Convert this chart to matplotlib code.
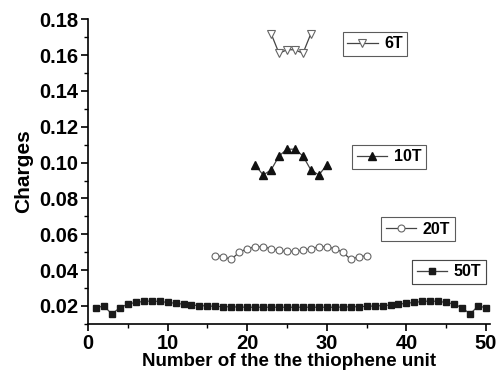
import matplotlib
matplotlib.use("Agg")
import matplotlib.pyplot as plt
from matplotlib.ticker import MultipleLocator

plt.rcParams['font.family'] = ['Liberation Sans', 'DejaVu Sans']
plt.rcParams['font.weight'] = 'bold'

x6 = [23, 24, 25, 26, 27, 28]
y6 = [0.172, 0.161, 0.163, 0.163, 0.161, 0.172]

x10 = [21, 22, 23, 24, 25, 26, 27, 28, 29, 30]
y10 = [0.0987, 0.0931, 0.0959, 0.1037, 0.1075, 0.1075, 0.1037, 0.0959, 0.0931, 0.0987]

x20 = list(range(16, 36))
y20 = [0.048, 0.0475, 0.046, 0.050, 0.052, 0.053, 0.053, 0.052, 0.051, 0.0505,
       0.0505, 0.051, 0.052, 0.053, 0.053, 0.052, 0.050, 0.046, 0.0475, 0.048]

x50 = list(range(1, 51))
y50 = [0.019, 0.020, 0.0155, 0.019, 0.021, 0.022, 0.0225, 0.0228, 0.0225, 0.022,
       0.0215, 0.021, 0.0205, 0.0202, 0.0200, 0.0198, 0.0196, 0.0195, 0.0194, 0.0193,
       0.0193, 0.0193, 0.0193, 0.0193, 0.0193, 0.0193, 0.0193, 0.0193, 0.0193, 0.0193,
       0.0193, 0.0194, 0.0195, 0.0196, 0.0198, 0.0200, 0.0202, 0.0205, 0.021, 0.0215,
       0.022, 0.0225, 0.0228, 0.0225, 0.022, 0.021, 0.019, 0.0155, 0.020, 0.019]

labels = ['6T', '10T', '20T', '50T']

fig = plt.figure(figsize=(4.97, 3.71), dpi=100)
ax = fig.add_axes([0.177, 0.127, 0.809, 0.821])

lc = '#444444'
l6, = ax.plot(x6, y6, '-', color=lc, lw=0.9, marker='v', ms=5.5, mfc='white', mec='#666666', mew=0.8)
l10, = ax.plot(x10, y10, '-', color=lc, lw=0.9, marker='^', ms=5.5, mfc='#111111', mec='#111111')
l20, = ax.plot(x20, y20, '-', color=lc, lw=0.9, marker='o', ms=5, mfc='white', mec='#666666', mew=0.8)
l50, = ax.plot(x50, y50, '-', color=lc, lw=0.9, marker='s', ms=4.6, mfc='#1a1a1a', mec='#1a1a1a')

ax.set_xlim(0, 50.5)
ax.set_ylim(0.01, 0.18)
ax.xaxis.set_major_locator(MultipleLocator(10))
ax.xaxis.set_minor_locator(MultipleLocator(5))
ax.yaxis.set_major_locator(MultipleLocator(0.02))
ax.yaxis.set_minor_locator(MultipleLocator(0.01))
ax.yaxis.set_major_formatter(matplotlib.ticker.FormatStrFormatter('%.2f'))
for s in ['top', 'right']:
    ax.spines[s].set_visible(False)
for s in ['left', 'bottom']:
    ax.spines[s].set_linewidth(1.2)
ax.tick_params(which='major', direction='out', length=5, width=1.2, labelsize=14.5, pad=2)
ax.tick_params(which='minor', direction='out', length=3, width=1.0)
for t in ax.get_xticklabels() + ax.get_yticklabels():
    t.set_fontweight('bold')

ax.set_xlabel('Number of the the thiophene unit', fontsize=13.5, fontweight='bold', labelpad=0)
ax.set_ylabel('Charges', fontsize=15, fontweight='bold', labelpad=4)

def add_leg(handle, label, loc_xy):
    leg = ax.legend([handle], [label], loc='center', bbox_to_anchor=loc_xy,
                    bbox_transform=fig.transFigure, frameon=True, fancybox=False,
                    handlelength=1.9, handletextpad=0.4, borderpad=0.3,
                    prop={'weight': 'bold', 'size': 11.5})
    leg.get_frame().set_edgecolor('#333333')
    leg.get_frame().set_linewidth(0.8)
    ax.add_artist(leg)
    return leg

add_leg(l6, '6T', (375 / 497, 1 - 44 / 371))
add_leg(l10, '10T', (389 / 497, 1 - 157 / 371))
add_leg(l20, '20T', (418 / 497, 1 - 229 / 371))
add_leg(l50, '50T', (449 / 497, 1 - 272 / 371))

fig.savefig('out.png', dpi=100)
